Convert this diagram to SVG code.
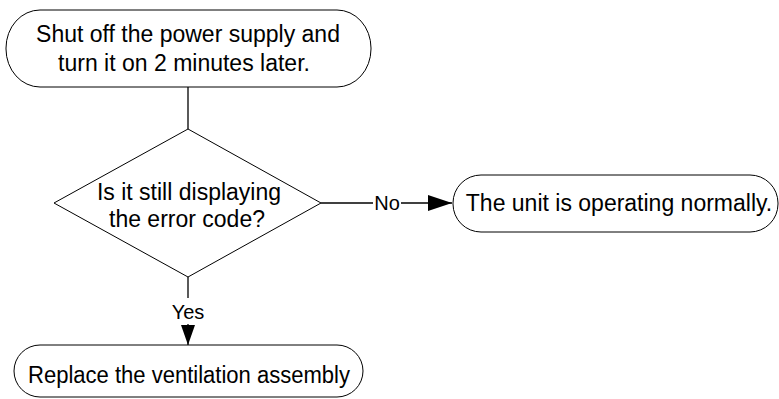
<svg xmlns="http://www.w3.org/2000/svg" width="779" height="399" viewBox="0 0 779 399">
<style>
.shape{fill:#fff;stroke:#000;stroke-width:1}
.t{font-family:"Liberation Sans",Arial,sans-serif;font-size:23px;fill:#000;text-anchor:middle}
.l{font-family:"Liberation Sans",Arial,sans-serif;font-size:20px;fill:#000;text-anchor:middle}
.c{fill:none;stroke:#000;stroke-width:1.3}
</style>
<defs>
<marker id="arr" markerWidth="24" markerHeight="16" refX="24" refY="8" orient="auto" markerUnits="userSpaceOnUse">
<path d="M0,0 L24,8 L0,16 Z" fill="#000"/>
</marker>
<marker id="arrd" markerWidth="20" markerHeight="14" refX="20" refY="7" orient="auto" markerUnits="userSpaceOnUse">
<path d="M0,0 L20,7 L0,14 Z" fill="#000"/>
</marker>
</defs>
<g id="connectors">
<line class="c" x1="188" y1="87" x2="188" y2="129"/>
<line class="c" x1="321" y1="203" x2="373" y2="203"/>
<line class="c" x1="401" y1="203" x2="452" y2="203" marker-end="url(#arr)"/>
<text class="l" x="387" y="210">No</text>
<line class="c" x1="188" y1="277" x2="188" y2="298"/>
<line class="c" x1="188" y1="324" x2="188" y2="345" marker-end="url(#arrd)"/>
<text class="l" x="188" y="319">Yes</text>
</g>
<g id="start">
<rect class="shape" x="6" y="10" width="365" height="77" rx="34" ry="38"/>
<text class="t" x="188" y="42">Shut off the power supply and</text>
<text class="t" x="184" y="71">turn it on 2 minutes later.</text>
</g>
<g id="decision">
<polygon class="shape" points="188,129 321,203 188,277 54,203"/>
<text class="t" x="189" y="200">Is it still displaying</text>
<text class="t" x="187" y="227">the error code?</text>
</g>
<g id="normal">
<rect class="shape" x="453" y="175" width="325" height="57" rx="28" ry="28"/>
<text class="t" x="619" y="211">The unit is operating normally.</text>
</g>
<g id="replace">
<rect class="shape" x="14" y="345" width="349" height="52" rx="26" ry="26"/>
<text class="t" x="189" y="383" textLength="322" lengthAdjust="spacingAndGlyphs">Replace the ventilation assembly</text>
</g>
</svg>
